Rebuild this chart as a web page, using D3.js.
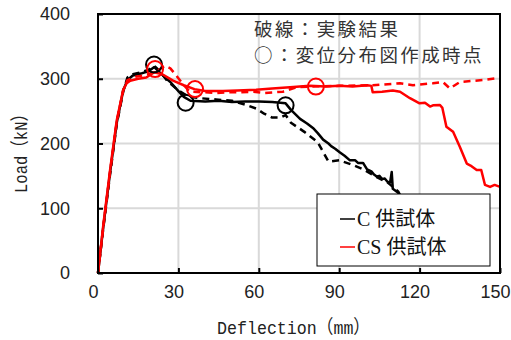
<!DOCTYPE html>
<html><head><meta charset="utf-8">
<script src="https://cdn.jsdelivr.net/npm/d3@7/dist/d3.min.js"></script>
<style>body{margin:0;background:#fff}svg{display:block}</style>
</head><body><div id="chart"></div>
<script>
const xTicks = [0, 30, 60, 90, 120, 150];
const yTicks = [0, 100, 200, 300, 400];
const xLabel = "Deflection（mm）";
const yLabel = "Load（kN）";
const noteLines = ["破線：実験結果", "○：変位分布図作成時点"];
const legendLabels = ["C 供試体", "CS 供試体"];

// C specimen, analysis (solid black)
const cAnalysis = [[0,0],[2,72],[4.5,155],[7,232],[9.4,282],[11,298],[13,305],[16,308],[19,312],[21,318],[23,310],[25,302],[27,295],[30,281],[32,272],[34.5,266],[40,265],[45,266],[50,264],[55,265],[60,265],[65,264],[70,262],[72,252],[75.4,238],[78,231],[80.2,224],[82,216],[84,206],[86,200],[87,196],[88.5,192],[90.3,186],[92,181],[94,174],[96,174],[97,170],[98.9,170],[100.4,160],[102,157],[103,152],[104,149],[105,150],[106,145],[107,146],[108,141],[109,140],[109.6,156],[110,130],[112,124],[114,110]];
// C specimen, experiment (dashed black)
const cExperiment = [[0,0],[2,70],[4.5,152],[7,230],[9.4,280],[11,302],[13,307],[16,310],[19,314],[21,320],[23,312],[26,296],[30,282],[34,272],[38,270],[44,268],[50,266],[55,260],[59,254],[62,246],[65,240],[68,240],[70,244],[72,232],[77,218],[82,202],[84,187],[86,172],[90,174],[95,167],[99,160],[104,148],[108,140],[112,126],[114,110]];
// CS specimen, analysis (solid red)
const csAnalysis = [[0,0],[2,75],[4.5,159],[7,236],[9.4,283],[10.7,293],[12,297],[15,300],[18,302],[21,310],[24,307],[28,297],[32,290],[36,284],[40,281],[46.6,281],[52,282],[59,283],[65,285],[71.6,287],[79,289],[85,288],[90,289],[95,288],[100.5,290],[102,289],[102.5,279],[106,280],[110,282],[112.7,280],[116.4,270],[120,262],[122,263],[123.9,257],[125,259],[127.6,259.5],[128.5,255],[130,226],[132.5,218],[135,195],[137.6,169],[139,166],[141.3,159],[143,159],[144.4,136],[146.3,133],[148,136],[150,133]];
// CS specimen, experiment (dashed red)
const csExperiment = [[0,0],[2,72],[4.5,156],[7,234],[9.4,282],[11,298],[14,303],[18,306],[22,312],[25,320],[27,316],[29,306],[32,290],[34.3,280],[40,279],[44,278],[48,279],[53,279],[58,280],[62,278],[69,280],[74,287],[80,288],[90,289],[102.6,290],[112.7,293],[117.5,290],[125,293],[128.7,295],[131.3,285],[135,295],[143.6,298],[148.7,301],[150,302]];
// displacement-distribution time points
const cPoints = [[20.9,322],[32.7,263],[70,259]];
const csPoints = [[21.3,315],[36.2,284],[81.3,288]];

const W = 511, H = 340;
const m = {left: 98, right: 11, top: 14, bottom: 67};
const svg = d3.select("#chart").append("svg").attr("width", W).attr("height", H);
const x = d3.scaleLinear().domain([0,150]).range([m.left, W - m.right]);
const y = d3.scaleLinear().domain([0,400]).range([H - m.bottom, m.top]);

// grid
svg.append("g").selectAll("line").data(xTicks.slice(1,-1)).join("line")
  .attr("x1", d=>x(d)).attr("x2", d=>x(d)).attr("y1", y(0)).attr("y2", y(400))
  .attr("stroke", "#d9d9d9").attr("stroke-width", 2);
svg.append("g").selectAll("line").data(yTicks.slice(1,-1)).join("line")
  .attr("y1", d=>y(d)).attr("y2", d=>y(d)).attr("x1", x(0)).attr("x2", x(150))
  .attr("stroke", "#d9d9d9").attr("stroke-width", 2);

// axes
const xAxis = svg.append("g").attr("transform", `translate(0,${y(0)})`)
  .call(d3.axisBottom(x).tickValues(xTicks).tickSize(-5).tickPadding(12));
const yAxis = svg.append("g").attr("transform", `translate(${x(0)},0)`)
  .call(d3.axisLeft(y).tickValues(yTicks).tickSize(-5).tickPadding(28));
[xAxis, yAxis].forEach(a => {
  a.select(".domain").remove();
  a.selectAll(".tick line").attr("stroke", "#000").attr("stroke-width", 2);
  a.selectAll(".tick text").attr("font-family", "Liberation Sans, Arial, sans-serif")
    .attr("font-size", 18).attr("fill", "#222");
});
xAxis.selectAll(".tick text").attr("dx", -5);

// curves
const line = d3.line().x(d=>x(d[0])).y(d=>y(d[1]));
const series = [
  {data: cExperiment, color: "#000", dash: "7,5"},
  {data: cAnalysis, color: "#000", dash: null},
  {data: csExperiment, color: "#ff0000", dash: "7,5"},
  {data: csAnalysis, color: "#ff0000", dash: null}
];
series.forEach(s => {
  svg.append("path").datum(s.data).attr("d", line).attr("fill", "none")
    .attr("stroke", s.color).attr("stroke-width", 2.5)
    .attr("stroke-dasharray", s.dash).attr("stroke-linejoin", "round");
});

// circles
svg.append("g").selectAll("circle").data(cPoints).join("circle")
  .attr("cx", d=>x(d[0])).attr("cy", d=>y(d[1])).attr("r", 8)
  .attr("fill", "none").attr("stroke", "#000").attr("stroke-width", 2);
svg.append("g").selectAll("circle").data(csPoints).join("circle")
  .attr("cx", d=>x(d[0])).attr("cy", d=>y(d[1])).attr("r", 8)
  .attr("fill", "none").attr("stroke", "#ff0000").attr("stroke-width", 2);

// frame
svg.append("rect").attr("x", x(0)).attr("y", y(400)).attr("width", x(150)-x(0)).attr("height", y(0)-y(400))
  .attr("fill", "none").attr("stroke", "#000").attr("stroke-width", 2);

// axis titles
svg.append("text").attr("x", 217).attr("y", 334)
  .attr("font-family", "Liberation Mono, Noto Sans CJK JP, monospace").attr("font-size", 19).attr("fill", "#222")
  .attr("textLength", 153).attr("lengthAdjust", "spacingAndGlyphs")
  .text(xLabel);
svg.append("text").attr("transform", `translate(27,193) rotate(-90)`)
  .attr("font-family", "Liberation Mono, Noto Sans CJK JP, monospace").attr("font-size", 19).attr("fill", "#222")
  .attr("textLength", 87).attr("lengthAdjust", "spacingAndGlyphs")
  .text(yLabel);

// note
svg.append("g").selectAll("text").data(noteLines).join("text")
  .attr("x", 254).attr("y", (d,i)=> 36 + i*26)
  .attr("font-family", "Noto Sans CJK JP, sans-serif").attr("font-size", 18.5).attr("letter-spacing", 2.4).attr("fill", "#333")
  .text(d=>d);

// legend
const lg = svg.append("g");
lg.append("rect").attr("x", 317).attr("y", 194).attr("width", 173).attr("height", 72)
  .attr("fill", "#fff").attr("stroke", "#000").attr("stroke-width", 1);
const legColors = ["#000", "#ff0000"];
legendLabels.forEach((t,i) => {
  const yy = 219 + i*28;
  lg.append("line").attr("x1", 340).attr("x2", 355).attr("y1", yy).attr("y2", yy)
    .attr("stroke", legColors[i]).attr("stroke-width", 1.5);
  lg.append("text").attr("x", 357).attr("y", yy + 7)
    .attr("font-family", "Liberation Serif, Noto Sans CJK JP, serif").attr("font-size", 20).attr("fill", "#111")
    .text(t);
});
</script></body></html>
